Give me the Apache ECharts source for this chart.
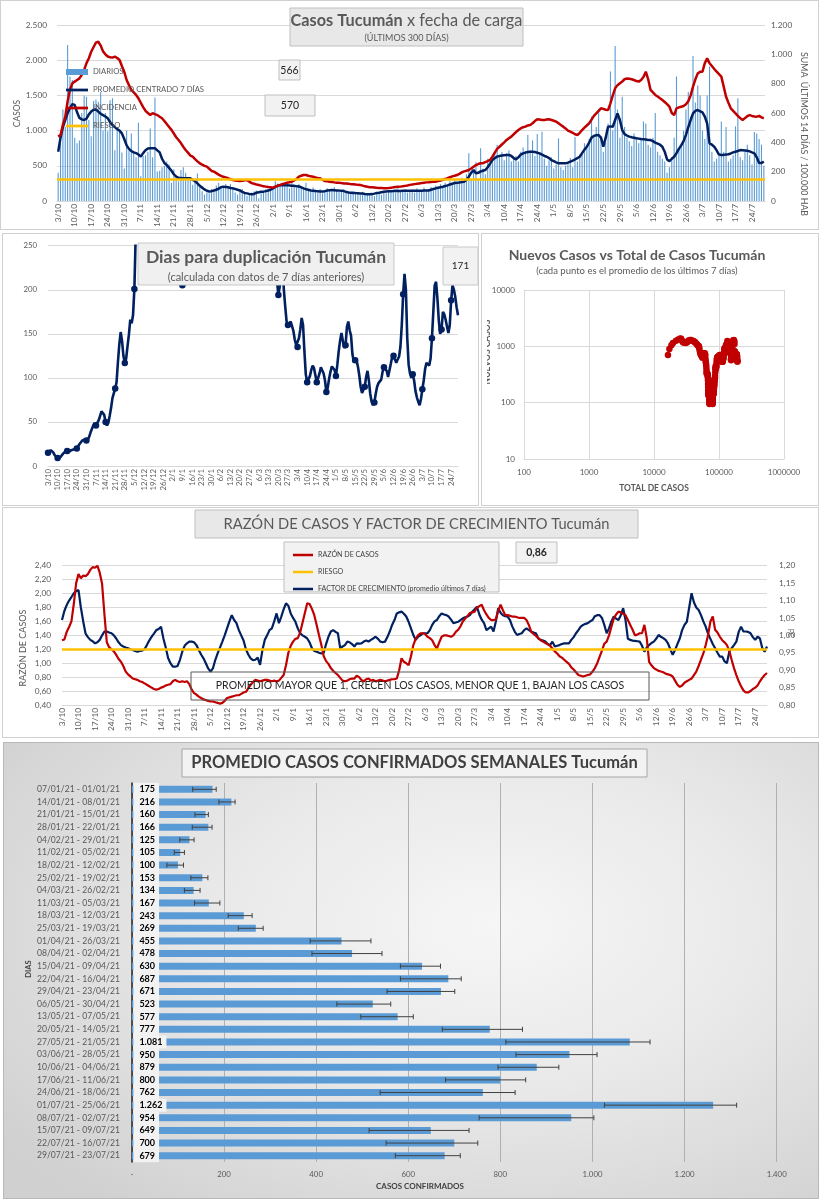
<!DOCTYPE html>
<html><head><meta charset="utf-8">
<script src="https://cdn.jsdelivr.net/npm/echarts@6/dist/echarts.min.js"></script>
<style>
html,body{margin:0;padding:0;background:#fff;}
#wrap{position:relative;width:820px;height:1200px;overflow:hidden;}
.panel{position:absolute;box-sizing:border-box;border:1px solid #d0d0d0;background:#fff;}
#chart{position:absolute;left:0;top:0;width:820px;height:1200px;}
</style></head><body>
<div id="wrap">
<div class="panel" style="left:0;top:0;width:819px;height:230px"></div>
<div class="panel" style="left:2px;top:233px;width:477px;height:273px"></div>
<div class="panel" style="left:481px;top:233px;width:338px;height:273px"></div>
<div class="panel" style="left:2px;top:507px;width:817px;height:231px"></div>
<div class="panel" style="left:3px;top:742px;width:816px;height:457px;border-color:#b8b8b8;background:radial-gradient(ellipse 75% 80% at 60% 40%, #f6f6f6 0%, #e9e9e9 45%, #d0d0d0 100%);"></div>
<div id="chart"></div>
</div>
<script>
// ---------- DATA ----------
const inicio = [2020, 9, 3]; // 3/10/2020, 300 días
const fechas = [];
for (let i = 0; i < 300; i++) { const d = new Date(inicio[0], inicio[1], inicio[2] + i); fechas.push(d.getDate() + '/' + (d.getMonth() + 1)); }

const diarios = [
400,830,1300,1050,2215,1770,1720,900,820,860,
1250,1500,1480,1150,920,1420,1440,1410,1550,1000,
1250,990,1430,1460,720,1050,980,690,460,1000,
720,960,700,620,1110,350,640,650,700,1030,
620,1470,420,430,480,500,560,520,260,450,
330,280,440,480,400,330,300,230,300,390,
210,140,90,120,110,170,140,220,260,200,
200,240,180,240,200,120,90,160,170,110,
70,80,120,140,150,40,110,130,170,160,
200,190,280,250,220,260,210,240,180,280,
230,190,240,180,170,260,150,130,190,160,
120,170,110,150,180,160,130,200,150,130,
140,170,130,110,130,140,100,120,90,130,
100,80,110,100,70,120,130,90,140,110,
150,130,160,120,180,140,130,170,120,150,
160,120,180,150,130,190,160,170,200,150,
220,180,240,210,260,230,280,230,300,260,
290,330,260,380,680,310,420,550,300,750,
460,380,600,520,560,680,800,620,700,580,
680,720,560,600,640,560,700,760,680,940,
720,860,640,950,690,985,600,500,580,620,
460,520,890,480,440,500,540,610,480,910,
560,660,700,820,760,880,1200,900,1050,1310,
900,700,830,1100,1840,1000,2200,1300,900,1480,
1050,900,850,780,960,900,820,870,1130,1100,
800,760,900,1250,700,650,600,560,400,480,
620,900,1770,750,800,1000,1300,1550,1200,2060,
1400,1640,1500,1000,880,1500,1910,700,560,600,
640,1130,700,1050,560,600,650,1060,1460,620,
580,700,800,650,520,980,960,880,800,500];

const promedio7 = [
700,900,1050,1150,1250,1320,1375,1365,1260,1180,
1160,1150,1170,1230,1270,1295,1300,1270,1240,1220,
1200,1175,1120,1080,1050,1020,1000,960,880,790,
740,710,690,680,660,630,680,720,745,750,
748,750,720,690,600,540,510,470,430,380,
345,330,325,322,322,322,322,300,280,250,
215,190,165,145,135,140,150,160,175,195,
204,200,195,185,180,170,160,150,130,115,
108,100,95,100,118,125,130,133,140,150,
160,180,200,215,225,227,225,222,220,218,
215,210,205,195,180,168,160,150,147,142,
140,135,135,140,148,152,155,153,150,148,
147,140,130,120,118,115,112,110,108,105,
100,96,95,98,105,115,118,125,130,135,
138,140,142,145,143,142,145,146,145,146,
146,146,146,147,147,148,148,150,160,170,
180,188,196,203,212,222,235,245,255,260,
262,268,274,300,345,400,440,393,400,420,
430,440,480,530,582,610,630,639,645,650,
652,653,640,610,592,620,660,677,688,695,
700,700,695,686,677,660,640,629,610,580,
565,548,535,535,535,535,545,560,572,590,
610,629,680,730,771,830,900,923,935,937,
900,771,900,1055,1060,1055,1150,1245,1150,1008,
950,930,915,905,899,892,886,880,876,872,
868,866,850,830,815,800,771,700,590,565,
600,629,680,740,790,850,940,1050,1150,1245,
1280,1292,1275,1260,1200,1100,819,800,771,720,
660,653,655,660,665,675,690,700,710,724,
722,718,714,705,690,677,620,540,540,560];

const incidencia = [
439,450,520,575,680,760,802,814,825,836,
860,893,940,973,1018,1050,1080,1086,1060,1020,
1000,985,980,978,984,975,961,920,880,825,
790,757,740,723,700,670,640,615,600,586,
598,592,586,575,564,545,525,505,485,460,
435,416,395,370,348,330,310,302,285,270,
257,248,240,234,220,205,200,190,180,172,
165,161,155,148,143,140,138,136,138,142,
143,132,122,118,112,109,105,100,98,95,
93,91,97,105,109,115,120,125,128,132,
140,150,166,172,177,177,172,168,166,160,
157,155,145,136,134,132,130,127,125,125,
122,120,119,117,115,114,112,110,109,105,
100,97,94,93,92,90,89,88,87,87,
88,90,93,95,97,98,100,103,106,110,
112,115,118,120,122,125,127,128,130,131,
132,136,140,145,150,155,162,168,172,177,
185,195,202,206,211,222,234,245,252,257,
258,265,272,280,302,330,355,370,385,400,
416,428,439,455,470,484,495,503,507,515,
518,530,545,557,555,552,553,555,557,552,
547,541,530,518,507,495,480,473,465,455,
450,465,484,500,515,530,555,580,598,615,
632,628,622,620,666,720,768,790,802,815,
830,836,834,830,825,818,814,825,845,882,
830,757,740,723,712,700,689,675,660,643,
600,586,632,638,643,648,660,680,720,780,
830,870,882,882,940,973,939,920,900,882,
865,848,780,711,670,632,615,598,580,565,
552,565,578,586,580,576,575,580,570,564];

const riesgoIncidencia = 150;
const cuadroA = '566', cuadroB = '570';

const duplicacion = [
15,17,18,17,15,12,10,9,9,10,
12,14,16,17,17,16,17,18,19,19,
20,20,22,25,27,29,29,30,29,30,
33,38,42,46,49,46,48,52,57,62,
61,58,50,46,49,57,66,77,79,88,
95,118,138,152,142,125,117,122,136,149,
166,162,171,201,265,285,300,290,270,255,
252,258,265,275,290,310,330,360,400,440,
470,500,520,490,420,400,380,370,350,330,
300,280,260,240,228,222,225,214,205,212,
225,235,245,260,280,300,320,340,350,365,
370,380,375,360,350,345,350,360,370,380,
395,420,450,470,480,490,500,510,525,540,
560,575,580,560,520,480,460,440,420,410,
400,395,390,385,390,395,390,385,380,378,
370,360,350,340,330,320,310,300,290,280,
270,262,255,250,240,230,220,210,194,204,
215,235,200,181,164,160,158,164,166,153,
143,137,135,145,155,168,160,130,104,95,
97,102,109,114,111,103,95,96,105,112,
111,105,97,84,89,99,107,113,114,109,
102,115,130,142,151,149,134,137,158,164,
154,148,127,118,120,120,113,103,90,83,
84,90,101,108,97,82,73,69,72,82,
90,94,92,98,107,112,112,108,101,103,
116,124,125,121,117,121,124,135,160,195,
218,200,145,115,105,100,104,97,85,78,
73,69,76,87,97,110,117,118,114,122,
145,175,205,209,190,165,150,155,175,172,
166,158,151,160,188,205,200,192,180,171];
const ultimoDuplicacion = '171';

const casosPrevios = 16000; // total acumulado antes del 3/10

const razonCasos = [
1.33,1.34,1.45,1.52,1.60,1.85,2.15,2.28,2.22,2.26,
2.25,2.28,2.34,2.38,2.37,2.40,2.30,2.14,1.70,1.30,
1.23,1.20,1.17,1.12,1.06,1.02,0.96,0.88,0.84,0.81,
0.78,0.77,0.76,0.74,0.73,0.71,0.69,0.67,0.65,0.63,
0.62,0.63,0.65,0.66,0.68,0.69,0.70,0.74,0.76,0.74,
0.73,0.74,0.73,0.74,0.70,0.62,0.57,0.55,0.52,0.50,
0.48,0.47,0.46,0.45,0.45,0.44,0.43,0.42,0.43,0.46,
0.50,0.51,0.52,0.53,0.54,0.54,0.56,0.58,0.59,0.64,
0.69,0.73,0.76,0.75,0.74,0.75,0.76,0.76,0.75,0.74,
0.75,0.74,0.75,0.79,0.83,0.97,1.15,1.25,1.31,1.35,
1.36,1.44,1.58,1.72,1.86,1.85,1.78,1.69,1.55,1.40,
1.26,1.10,1.03,0.99,0.93,0.89,0.86,0.83,0.79,0.75,
0.74,0.75,0.77,0.78,0.78,0.82,0.80,0.76,0.74,0.77,
0.78,0.75,0.76,0.74,0.75,0.76,0.75,0.74,0.75,0.76,
0.77,0.77,0.78,0.90,1.07,1.02,1.00,0.97,1.10,1.26,
1.35,1.40,1.43,1.43,1.42,1.38,1.36,1.33,1.26,1.21,
1.30,1.38,1.40,1.40,1.39,1.38,1.40,1.45,1.48,1.53,
1.60,1.64,1.68,1.72,1.73,1.74,1.80,1.82,1.84,1.76,
1.70,1.65,1.62,1.62,1.63,1.75,1.84,1.76,1.69,1.69,
1.68,1.67,1.67,1.66,1.65,1.65,1.65,1.62,1.55,1.45,
1.42,1.39,1.36,1.33,1.31,1.29,1.27,1.25,1.21,1.17,
1.14,1.10,1.08,1.05,1.02,0.99,0.94,0.91,0.87,0.83,
0.82,0.81,0.82,0.83,0.84,0.88,0.93,1.00,1.09,1.18,
1.28,1.31,1.40,1.52,1.64,1.70,1.74,1.73,1.71,1.69,
1.62,1.55,1.48,1.40,1.41,1.43,1.43,1.55,1.36,1.02,
0.97,0.93,0.91,0.89,0.88,0.87,0.85,0.84,0.83,0.81,
0.75,0.69,0.66,0.68,0.72,0.74,0.76,0.78,0.83,0.88,
0.96,1.05,1.14,1.26,1.40,1.60,1.67,1.48,1.44,1.38,
1.33,1.30,1.26,1.18,1.05,0.93,0.83,0.74,0.67,0.61,
0.58,0.58,0.60,0.63,0.65,0.68,0.74,0.79,0.83,0.86];

const factorCrecimiento = [
1.044,1.070,1.087,1.100,1.110,1.121,1.127,1.130,1.080,1.040,
1.005,0.995,0.987,0.983,0.977,0.980,0.987,1.000,1.011,1.011,
1.008,1.006,1.000,0.991,0.980,0.972,0.968,0.965,0.963,0.960,
0.958,0.955,0.953,0.955,0.956,0.960,0.972,0.985,0.996,1.005,
1.015,1.018,1.025,0.991,0.965,0.935,0.920,0.910,0.910,0.912,
0.929,0.953,0.970,0.977,0.982,0.982,0.980,0.972,0.958,0.945,
0.934,0.920,0.905,0.896,0.905,0.929,0.948,0.965,0.982,1.000,
1.020,1.040,1.058,1.044,1.035,1.015,1.000,0.985,0.960,0.945,
0.934,0.929,0.930,0.936,0.915,0.958,0.987,1.000,1.015,1.020,
1.040,1.063,1.035,1.054,1.075,1.092,1.085,1.063,1.050,1.039,
1.020,1.006,1.000,0.996,0.991,0.980,0.963,0.955,0.953,0.950,
0.948,0.950,0.975,0.996,1.011,1.015,1.010,1.006,0.963,0.968,
0.972,0.982,0.980,0.975,0.968,0.977,0.976,0.977,0.982,0.985,
0.982,0.987,0.991,0.996,0.990,0.982,0.980,0.982,0.995,1.011,
1.030,1.044,1.063,1.066,1.068,1.062,1.054,1.039,1.020,1.001,
0.987,0.996,1.000,1.006,1.006,1.006,1.015,1.030,1.040,1.044,
1.055,1.063,1.060,1.058,1.054,1.045,1.035,1.037,1.039,1.044,
1.049,1.052,1.054,1.058,1.068,1.075,1.082,1.060,1.045,1.035,
1.015,1.020,1.025,1.011,1.040,1.078,1.065,1.058,1.055,1.054,
1.044,1.025,1.011,1.001,1.004,1.006,1.015,1.020,1.015,1.011,
1.008,1.006,0.991,0.987,0.985,0.982,0.975,0.972,0.982,0.968,
0.970,0.972,0.975,0.977,0.977,0.977,0.987,0.995,1.006,1.015,
1.025,1.030,1.033,1.035,1.040,1.044,1.055,1.058,1.058,1.050,
1.030,1.006,1.020,1.040,1.054,1.048,1.044,1.058,1.078,1.044,
0.990,0.987,0.985,0.984,0.983,0.982,0.970,0.953,0.965,0.972,
0.978,0.982,0.990,1.001,0.996,0.992,0.987,0.977,0.960,0.944,
0.958,0.975,0.991,1.015,1.030,1.039,1.080,1.121,1.095,1.080,
1.073,1.058,1.040,1.025,1.005,0.990,0.975,0.963,0.950,0.939,
0.939,0.925,0.920,0.953,0.963,0.972,0.982,1.010,1.025,1.011,
1.011,1.010,1.006,0.995,0.987,0.996,0.991,0.963,0.953,0.968];
const riesgoRazon = 1.20;
const ultimaRazon = '0,86';

const semanas = ['07/01/21 - 01/01/21','14/01/21 - 08/01/21','21/01/21 - 15/01/21','28/01/21 - 22/01/21','04/02/21 - 29/01/21','11/02/21 - 05/02/21','18/02/21 - 12/02/21','25/02/21 - 19/02/21','04/03/21 - 26/02/21','11/03/21 - 05/03/21','18/03/21 - 12/03/21','25/03/21 - 19/03/21','01/04/21 - 26/03/21','08/04/21 - 02/04/21','15/04/21 - 09/04/21','22/04/21 - 16/04/21','29/04/21 - 23/04/21','06/05/21 - 30/04/21','13/05/21 - 07/05/21','20/05/21 - 14/05/21','27/05/21 - 21/05/21','03/06/21 - 28/05/21','10/06/21 - 04/06/21','17/06/21 - 11/06/21','24/06/21 - 18/06/21','01/07/21 - 25/06/21','08/07/21 - 02/07/21','15/07/21 - 09/07/21','22/07/21 - 16/07/21','29/07/21 - 23/07/21'];
const promedioSemanal = [175,216,160,166,125,105,100,153,134,167,243,269,455,478,630,687,671,523,577,777,1081,950,879,800,762,1262,954,649,700,679];
const errorMin = [132,189,137,131,104,92,76,128,114,136,209,231,387,391,583,583,554,445,497,674,812,834,795,681,539,1026,754,515,552,572];
const errorMax = [183,224,166,174,135,114,112,165,148,191,261,285,519,543,670,715,701,562,611,848,1125,1010,927,855,832,1313,1003,732,751,713];

// ---------- HELPERS ----------
const F = 'Lato, "Open Sans", sans-serif';
const AZUL = '#5b9bd5', NAVY = '#002060', ROJO = '#c00000', NAR = '#ffc000', GRIS = '#595959', GL = '#d9d9d9';
const ICON_LINEA = 'path://M0 0h24v3h-24z';
function miles(v) { return String(Math.round(v)).replace(/\B(?=(\d{3})+(?!\d))/g, '.'); }
function coma(v) { return Number(v).toFixed(2).replace('.', ','); }
let acum = casosPrevios;
const dispersion = diarios.map((d, i) => { acum += d; return [acum, promedio7[i]]; });

function caja(x, y, w, h, fill, stroke, z) {
  return { type: 'rect', silent: true, z: z || 100, shape: { x: x, y: y, width: w, height: h }, style: { fill: fill, stroke: stroke, lineWidth: 1 } };
}
function texto(x, y, t, font, fill, rot, extra) {
  const st = { text: t, font: font, fill: fill, textAlign: 'center', textVerticalAlign: 'middle', align: 'center', verticalAlign: 'middle' };
  if (extra) Object.assign(st, extra);
  return { type: 'text', silent: true, z: 101, x: x, y: y, rotation: rot || 0, style: st };
}
const catX = (grid, bg, fs) => ({ gridIndex: grid, type: 'category', data: fechas, boundaryGap: bg,
  axisTick: { show: false }, axisLine: { show: true, lineStyle: { color: GL } },
  axisLabel: { interval: 6, rotate: 90, fontSize: fs, color: GRIS, margin: 3, fontFamily: F }, splitLine: { show: false } });

const chart = echarts.init(document.getElementById('chart'));
const option = {
  animation: false,
  textStyle: { fontFamily: F },
  grid: [
    { left: 57, top: 25, width: 708, height: 176, containLabel: false, outerBoundsMode: 'none' },
    { left: 48, top: 245.7, width: 410, height: 220.3, containLabel: false, outerBoundsMode: 'none' },
    { left: 524, top: 290, width: 260, height: 169, containLabel: false, outerBoundsMode: 'none' },
    { left: 62, top: 565.7, width: 705, height: 139.3, containLabel: false, outerBoundsMode: 'none' },
    { left: 131.9, top: 783, width: 644.8, height: 379, containLabel: false, outerBoundsMode: 'none' }
  ],
  xAxis: [
    catX(0, true, 8.3),
    catX(1, false, 7.8),
    { gridIndex: 2, type: 'log', logBase: 10, min: 100, max: 1000000,
      axisLine: { show: true, lineStyle: { color: GL } }, axisTick: { show: false },
      axisLabel: { fontSize: 8, color: GRIS, margin: 9, formatter: v => String(Math.round(v)) },
      splitLine: { show: true, lineStyle: { color: GL } }, minorSplitLine: { show: false } },
    catX(3, false, 8.3),
    { gridIndex: 4, type: 'value', min: 0, max: 1400, interval: 200,
      axisLine: { show: false }, axisTick: { show: false },
      axisLabel: { fontSize: 7.8, color: GRIS, margin: 8, formatter: v => v === 0 ? '-' : miles(v) },
      splitLine: { show: true, lineStyle: { color: '#b0b0b0' } } }
  ],
  yAxis: [
    { gridIndex: 0, type: 'value', min: 0, max: 2500, interval: 500, axisLine: { show: false }, axisTick: { show: false },
      axisLabel: { fontSize: 8.3, color: GRIS, margin: 10, formatter: v => miles(v) }, splitLine: { lineStyle: { color: GL } } },
    { gridIndex: 0, type: 'value', position: 'right', min: 0, max: 1200, interval: 200, axisLine: { show: false }, axisTick: { show: false },
      axisLabel: { fontSize: 8.3, color: GRIS, margin: 6, formatter: v => miles(v) }, splitLine: { show: false } },
    { gridIndex: 1, type: 'value', min: 0, max: 250, interval: 50, axisLine: { show: false }, axisTick: { show: false },
      axisLabel: { fontSize: 7.8, color: GRIS, margin: 11 }, splitLine: { lineStyle: { color: GL } } },
    { gridIndex: 2, type: 'log', logBase: 10, min: 10, max: 10000, axisLine: { show: true, lineStyle: { color: GL } }, axisTick: { show: false },
      axisLabel: { fontSize: 8, color: GRIS, margin: 9, formatter: v => String(Math.round(v)) },
      splitLine: { show: true, lineStyle: { color: GL } }, minorSplitLine: { show: false } },
    { gridIndex: 3, type: 'value', min: 0.4, max: 2.4, interval: 0.2, axisLine: { show: false }, axisTick: { show: false },
      axisLabel: { fontSize: 8.3, color: GRIS, margin: 11, formatter: v => coma(v) }, splitLine: { lineStyle: { color: GL } } },
    { gridIndex: 3, type: 'value', position: 'right', min: 0.8, max: 1.2, interval: 0.05, axisLine: { show: false }, axisTick: { show: false },
      axisLabel: { fontSize: 8.3, color: GRIS, margin: 12, formatter: v => coma(v) }, splitLine: { show: false } },
    { gridIndex: 4, type: 'category', data: semanas, inverse: true, boundaryGap: true,
      axisLine: { show: true, lineStyle: { color: '#262626', width: 1.5 } }, axisTick: { show: false },
      axisLabel: { fontSize: 8.6, color: GRIS, margin: 12, interval: 0 }, splitLine: { show: false } }
  ],
  legend: [
    { left: 61, top: 62, orient: 'vertical', itemWidth: 22, itemHeight: 6, itemGap: 8, selectedMode: false,
      textStyle: { fontSize: 7.7, color: GRIS, lineHeight: 10, fontFamily: F },
      data: [{ name: 'DIARIOS', icon: 'rect' },
             { name: 'PROMEDIO CENTRADO 7 DÍAS', icon: ICON_LINEA },
             { name: 'INCIDENCIA', icon: ICON_LINEA },
             { name: 'RIESGO', icon: ICON_LINEA }] },
    { left: 288, top: 546, orient: 'vertical', itemWidth: 20, itemHeight: 3, itemGap: 9, selectedMode: false, z: 10,
      textStyle: { fontSize: 7.1, color: '#404040', lineHeight: 8, fontFamily: F },
      data: [{ name: 'RAZÓN DE CASOS', icon: ICON_LINEA }, { name: 'RIESGO', icon: ICON_LINEA },
             { name: 'FACTOR DE CRECIMIENTO (promedio últimos 7 días)', icon: ICON_LINEA }] }
  ],
  series: [
    { name: 'DIARIOS', type: 'bar', xAxisIndex: 0, yAxisIndex: 0, data: diarios, barWidth: 1.1, itemStyle: { color: AZUL }, silent: true },
    { name: 'RIESGO', type: 'line', xAxisIndex: 0, yAxisIndex: 1, data: [], symbol: 'none',
      lineStyle: { color: NAR, width: 2.5 }, itemStyle: { color: NAR },
      markLine: { silent: true, symbol: ['none', 'none'], label: { show: false }, lineStyle: { color: NAR, width: 2.5, type: 'solid' }, data: [{ yAxis: riesgoIncidencia }] } },
    { name: 'PROMEDIO CENTRADO 7 DÍAS', type: 'line', xAxisIndex: 0, yAxisIndex: 0, data: promedio7, symbol: 'none', silent: true,
      lineStyle: { color: NAVY, width: 2.5 }, itemStyle: { color: NAVY } },
    { name: 'INCIDENCIA', type: 'line', xAxisIndex: 0, yAxisIndex: 1, data: incidencia, symbol: 'none', silent: true,
      lineStyle: { color: ROJO, width: 2.5 }, itemStyle: { color: ROJO } },
    { name: 'duplicacion', type: 'line', xAxisIndex: 1, yAxisIndex: 2, data: duplicacion, symbol: 'circle', symbolSize: 6.5, showSymbol: true, clip: true, silent: true,
      lineStyle: { color: NAVY, width: 2.6 }, itemStyle: { color: NAVY } },
    { name: 'dispersion', type: 'scatter', xAxisIndex: 2, yAxisIndex: 3, data: dispersion, symbolSize: 6.5, silent: true,
      itemStyle: { color: ROJO, opacity: 1 } },
    { name: 'FACTOR DE CRECIMIENTO (promedio últimos 7 días)', type: 'line', xAxisIndex: 3, yAxisIndex: 5, data: factorCrecimiento, symbol: 'none', silent: true,
      lineStyle: { color: NAVY, width: 2.2 }, itemStyle: { color: NAVY } },
    { name: 'RAZÓN DE CASOS', type: 'line', xAxisIndex: 3, yAxisIndex: 4, data: razonCasos, symbol: 'none', silent: true,
      lineStyle: { color: ROJO, width: 2.2 }, itemStyle: { color: ROJO } },
    { name: 'RIESGO', type: 'line', xAxisIndex: 3, yAxisIndex: 4, data: [], symbol: 'none',
      lineStyle: { color: NAR, width: 2.5 }, itemStyle: { color: NAR },
      markLine: { silent: true, symbol: ['none', 'none'], label: { show: false }, lineStyle: { color: NAR, width: 2.5, type: 'solid' }, data: [{ yAxis: riesgoRazon }] } },
    { name: 'semanal', type: 'bar', xAxisIndex: 4, yAxisIndex: 6, data: promedioSemanal, barWidth: 7, silent: true,
      itemStyle: { color: AZUL },
      label: { show: true, position: 'insideLeft', distance: 1.5, formatter: p => miles(p.value), fontSize: 9, fontWeight: 'bold', color: '#000',
        fontFamily: F, backgroundColor: '#f2f2f2', padding: [2, 4, 2, 6], lineHeight: 9 } },
    { name: 'error', type: 'custom', xAxisIndex: 4, yAxisIndex: 6, silent: true, z: 5,
      data: semanas.map((s, i) => [errorMin[i], errorMax[i], i]),
      encode: { x: [0, 1], y: 2 },
      renderItem: function (params, api) {
        const a = api.coord([api.value(0), api.value(2)]);
        const b = api.coord([api.value(1), api.value(2)]);
        const st = { stroke: '#404040', lineWidth: 1 };
        return { type: 'group', children: [
          { type: 'line', shape: { x1: a[0], y1: a[1], x2: b[0], y2: b[1] }, style: st },
          { type: 'line', shape: { x1: a[0], y1: a[1] - 2.5, x2: a[0], y2: a[1] + 2.5 }, style: st },
          { type: 'line', shape: { x1: b[0], y1: b[1] - 2.5, x2: b[0], y2: b[1] + 2.5 }, style: st }
        ] };
      } }
  ],
  graphic: [
    // panel 1
    caja(290, 8, 233, 38, '#e8e8e8', '#bfbfbf'),
    texto(406.5, 21, '{b|Casos Tucumán} x fecha de carga', '16.3px ' + F, GRIS, 0,
      { rich: { b: { fontWeight: 'bold', fontSize: 16.3, fontFamily: F, fill: GRIS } } }),
    texto(406.5, 38, '(ÚLTIMOS 300 DÍAS)', '9px ' + F, GRIS),
    caja(279, 60, 21, 20, '#f2f2f2', '#bfbfbf'),
    texto(289.5, 70.5, cuadroA, '10.5px ' + F, '#262626'),
    caja(265, 95, 50, 21, '#f2f2f2', '#bfbfbf'),
    texto(290, 106, cuadroB, '10.5px ' + F, '#262626'),
    texto(17, 113.5, 'CASOS', '8.5px ' + F, GRIS, Math.PI / 2),
    texto(804, 134, 'SUMA  ÚLTIMOS 14 DÍAS / 100.000 HAB', '8.8px ' + F, GRIS, -Math.PI / 2),
    // panel 2
    caja(138, 243, 256, 42, '#f0f0f0', '#c8c8c8'),
    texto(266, 257, 'Dias para duplicación Tucumán', 'bold 17.5px ' + F, GRIS),
    texto(266, 277, '(calculada con datos de 7 días anteriores)', '11px ' + F, GRIS),
    caja(443, 247, 35, 38, '#f2f2f2', '#c8c8c8'),
    texto(460.5, 266, ultimoDuplicacion, '10px ' + F, '#262626'),
    // panel 3
    texto(637, 255, 'Nuevos Casos vs Total de Casos Tucumán', 'bold 14px ' + F, GRIS),
    texto(637, 270.5, '(cada punto es el promedio de los últimos 7 días)', '9.5px ' + F, GRIS),
    texto(487.5, 352, 'NUEVOS CASOS', 'bold 8.5px ' + F, GRIS, Math.PI / 2),
    caja(482, 320, 5, 65, '#ffffff', 'none', 102),
    texto(654, 488.5, 'TOTAL DE CASOS', 'bold 8.5px ' + F, GRIS),
    // panel 4
    caja(195, 510, 443, 28, '#e8e8e8', '#bfbfbf'),
    texto(416.5, 524, 'RAZÓN DE CASOS Y FACTOR DE CRECIMIENTO Tucumán', '14.7px ' + F, GRIS),
    caja(284, 542, 215, 50, '#f2f2f2', '#bfbfbf', 3),
    caja(516, 542, 41, 21, '#f2f2f2', '#bfbfbf'),
    texto(536.5, 552.5, ultimaRazon, 'bold 10.5px ' + F, '#262626'),
    caja(191, 672, 458, 28, 'rgba(0,0,0,0)', '#595959', 20),
    texto(420, 686, 'PROMEDIO MAYOR QUE 1, CRECEN LOS CASOS, MENOR QUE 1, BAJAN LOS CASOS', '10.5px ' + F, '#262626'),
    texto(23, 648, 'RAZÓN DE CASOS', '9px ' + F, GRIS, Math.PI / 2),
    texto(790, 633, 'FC', '7px ' + F, GRIS, -Math.PI / 2),
    // panel 5
    caja(182, 749, 465, 28, '#f2f2f2', '#a6a6a6'),
    texto(414.5, 763, 'PROMEDIO CASOS CONFIRMADOS SEMANALES Tucumán', 'bold 16.5px ' + F, '#404040'),
    texto(29, 969, 'DIAS', 'bold 7.5px ' + F, '#404040', Math.PI / 2),
    texto(420, 1186.5, 'CASOS CONFIRMADOS', 'bold 8px ' + F, '#404040')
  ]
};
chart.setOption(option);
</script>
</body></html>
